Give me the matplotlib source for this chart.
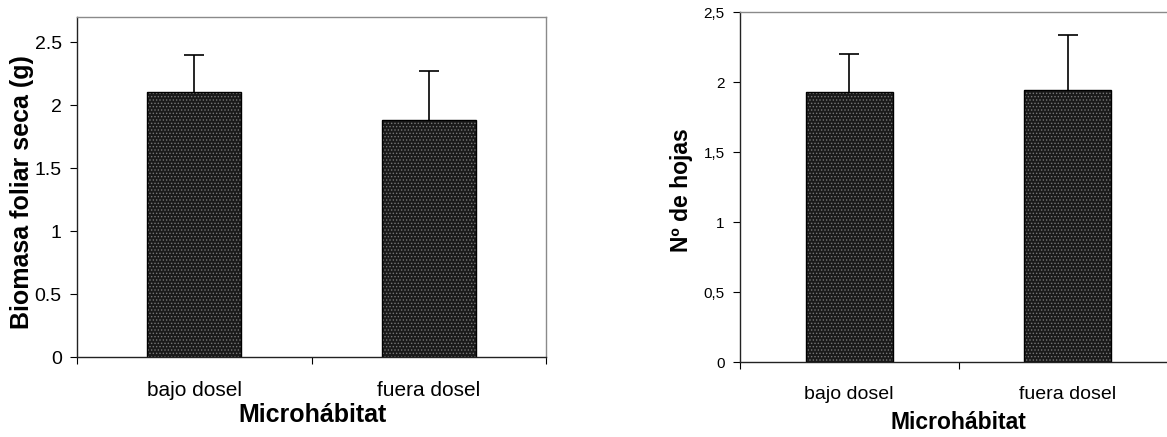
import numpy as np
import matplotlib
matplotlib.use("Agg")
import matplotlib.pyplot as plt

plt.rcParams['font.family'] = ['Liberation Sans', 'DejaVu Sans']
plt.rcParams['hatch.color'] = '#777777'
plt.rcParams['hatch.linewidth'] = 0.6

categorias = ["bajo dosel", "fuera dosel"]

# panel izquierdo: biomasa foliar seca (g)
biomasa = [2.105, 1.88]
biomasa_err = [0.295, 0.39]
biomasa_ticks = [0, 0.5, 1, 1.5, 2, 2.5]
biomasa_ticklabels = ["0", "0.5", "1", "1.5", "2", "2.5"]

# panel derecho: numero de hojas
hojas = [1.93, 1.947]
hojas_err = [0.27, 0.39]
hojas_ticks = [0, 0.5, 1, 1.5, 2, 2.5]
hojas_ticklabels = ["0", "0,5", "1", "1,5", "2", "2,5"]

W, H = 1167, 437
fig = plt.figure(figsize=(W / 100, H / 100), dpi=100)


def panel(rect, vals, errs, yticks, yticklabels, ylim, ylabel,
          tick_fs, cat_fs, lab_fs, ylab_xy, xlab_xy):
    ax = fig.add_axes(rect)
    x = np.arange(len(vals)) + 0.5
    ax.bar(x, vals, width=0.4, color='#1a1a1a', hatch='.....', linewidth=0)
    ax.bar(x, vals, width=0.4, fill=False, edgecolor='black', linewidth=1)
    eb = ax.errorbar(x, vals, yerr=[np.zeros(len(errs)), errs], fmt='none',
                     ecolor='black', elinewidth=1.2, capsize=7, capthick=1.2)
    eb[1][0].set_visible(False)  # sin tapa inferior
    ax.set_xlim(0, len(vals))
    ax.set_ylim(*ylim)
    ax.set_yticks(yticks)
    ax.set_yticklabels(yticklabels, fontsize=tick_fs)
    ax.set_xticks(np.arange(len(vals) + 1))
    ax.set_xticklabels([])
    ax.set_xticks(x, minor=True)
    ax.set_xticklabels(categorias, minor=True, fontsize=cat_fs)
    ax.tick_params(axis='x', which='minor', length=0, pad=17)
    ax.tick_params(axis='x', which='major', length=5, width=0.8, direction='out')
    ax.tick_params(axis='y', length=5, width=0.8, direction='out', pad=6)
    for s in ['top', 'right']:
        ax.spines[s].set_color('#8a8a8a')
        ax.spines[s].set_linewidth(1.0)
    for s in ['bottom', 'left']:
        ax.spines[s].set_color('#222222')
        ax.spines[s].set_linewidth(1.0)
    ax.set_ylabel(ylabel, fontsize=lab_fs, fontweight='bold', va='center')
    ax.yaxis.set_label_coords(*ylab_xy)
    ax.set_xlabel("Microhábitat", fontsize=lab_fs, fontweight='bold', va='center')
    ax.xaxis.set_label_coords(*xlab_xy)
    return ax


panel([77 / W, (H - 357.3) / H, 469 / W, 340.3 / H],
      biomasa, biomasa_err, biomasa_ticks, biomasa_ticklabels, (0, 2.7),
      "Biomasa foliar seca (g)", 14, 15, 18,
      (-0.117, 0.487), (0.503, -0.17))

panel([740 / W, (H - 362.3) / H, 437 / W, 350 / H],
      hojas, hojas_err, hojas_ticks, hojas_ticklabels, (0, 2.5),
      "Nº de hojas", 11, 14, 16.5,
      (-0.135, 0.492), (0.5, -0.173))

fig.savefig("out.png", dpi=100)
